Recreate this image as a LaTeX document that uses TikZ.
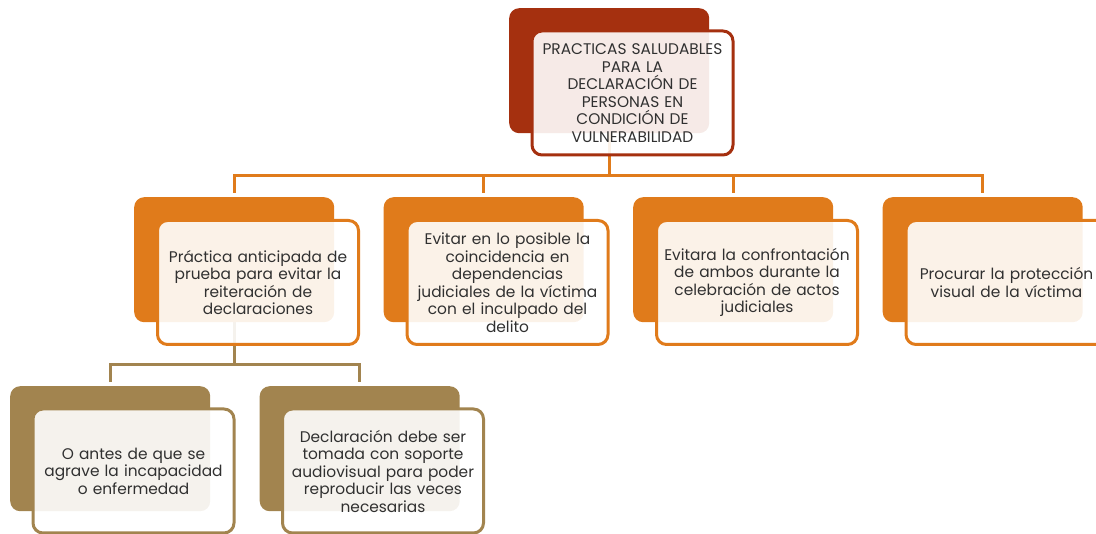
\documentclass[tikz,border=0pt]{standalone}
\usepackage{fontspec}
\setmainfont{Poppins}
\definecolor{topc}{HTML}{A5300F}
\definecolor{orc}{HTML}{E07B1B}
\definecolor{brc}{HTML}{A2844F}
\definecolor{txt}{HTML}{303030}
\pgfdeclarelayer{bg}
\pgfsetlayers{bg,main}
\tikzset{
  backbox/.style={draw=none, fill=#1, rounded corners=10pt, minimum width=200pt, minimum height=125pt, anchor=north west, inner sep=0pt},
  frontbox/.style={draw=#1, line width=3pt, fill=white, fill opacity=0.9, text opacity=1, rounded corners=10pt, minimum width=201pt, minimum height=124pt, anchor=north west, inner sep=0pt, text width=198pt, align=center, font=\fontsize{15.4}{17.5}\selectfont, text=txt},
  conn/.style={draw=#1, line width=3pt},
}
\begin{document}
\begin{tikzpicture}[x=1pt,y=-1pt]
\useasboundingbox (0,0) rectangle (1096,534);
\clip (0,0) rectangle (1096,534);
% top
\node[backbox=topc] (Tb) at (509,8) {};
\node[frontbox=topc] (Tf) at (530.5,29.5) {PRACTICAS SALUDABLES\\PARA LA\\DECLARACIÓN DE\\PERSONAS EN\\CONDICIÓN DE\\VULNERABILIDAD};
% level 1
\node[backbox=orc] (Ab) at (134,197) {};
\node[frontbox=orc] (Af) at (156,219) {Práctica anticipada de\\prueba para evitar la\\reiteración de\\declaraciones};
\node[backbox=orc] (Bb) at (383.5,197) {};
\node[frontbox=orc] (Bf) at (405.5,219) {Evitar en lo posible la\\coincidencia en\\dependencias\\judiciales de la víctima\\con el inculpado del\\delito};
\node[backbox=orc] (Cb) at (633,197) {};
\node[frontbox=orc] (Cf) at (655,219) {Evitara la confrontación\\de ambos durante la\\celebración de actos\\judiciales};
\node[backbox=orc] (Db) at (882.5,197) {};
\node[frontbox=orc] (Df) at (904.5,219) {Procurar la protección\\visual de la víctima};
% level 2
\node[backbox=brc] (Eb) at (10,386) {};
\node[frontbox=brc] (Ef) at (31.5,407.5) {O antes de que se\\agrave la incapacidad\\o enfermedad};
\node[backbox=brc] (Fb) at (259.5,386) {};
\node[frontbox=brc] (Ff) at (281,407.5) {Declaración debe ser\\tomada con soporte\\audiovisual para poder\\reproducir las veces\\necesarias};
% connectors
\begin{pgfonlayer}{bg}
\foreach \n in {Ab,Bb,Cb,Db}
  \draw[conn=orc] (Tb.south) -- ++(0,42.5) -| ([yshift=4pt]\n.north);
\foreach \n in {Eb,Fb}
  \draw[conn=brc] (Ab.south) -- ++(0,42) -| ([yshift=4pt]\n.north);
\end{pgfonlayer}
\end{tikzpicture}
\end{document}
